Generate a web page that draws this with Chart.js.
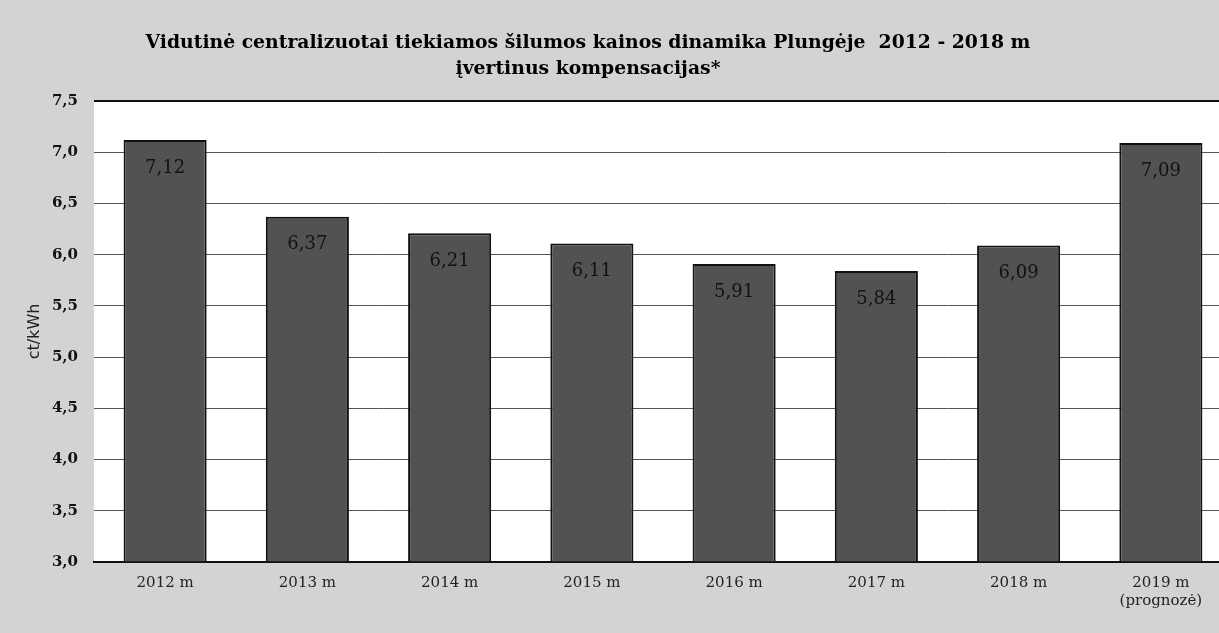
<!DOCTYPE html>
<html>
<head>
<meta charset="utf-8">
<script src="https://cdn.jsdelivr.net/npm/chart.js@4.4.1/dist/chart.umd.min.js"></script>
<style>
html,body{margin:0;padding:0;overflow:hidden;background:#d3d3d3;}
#wrap{width:1232px;height:633px;position:relative;}
</style>
</head>
<body>
<div id="wrap"><canvas id="c" width="1232" height="633"></canvas></div>
<script>
const categories = [["2012 m"],["2013 m"],["2014 m"],["2015 m"],["2016 m"],["2017 m"],["2018 m"],["2019 m","(prognozė)"]];
const prices = [7.12, 6.37, 6.21, 6.11, 5.91, 5.84, 6.09, 7.09];
const titleLines = ["Vidutinė centralizuotai tiekiamos šilumos kainos dinamika Plungėje  2012 - 2018 m", "įvertinus kompensacijas*"];
const yAxisTitle = "ct/kWh";
const yMin = 3.0, yMax = 7.5, yStep = 0.5;

const fmt = v => v.toFixed(2).replace('.', ',');

const bgPlugin = {
  id: 'bg',
  beforeDraw(chart) {
    const {ctx, chartArea: a} = chart;
    ctx.save();
    ctx.fillStyle = '#d3d3d3';
    ctx.fillRect(0, 0, chart.width, chart.height);
    ctx.fillStyle = '#ffffff';
    ctx.fillRect(a.left, a.top, a.right - a.left, a.bottom - a.top);
    ctx.restore();
  }
};

const titlePlugin = {
  id: 'ttl',
  afterDraw(chart) {
    const ctx = chart.ctx;
    ctx.save();
    ctx.fillStyle = '#000';
    ctx.font = 'bold 18.8px "DejaVu Serif"';
    ctx.textAlign = 'center';
    ctx.textBaseline = 'middle';
    ctx.fillText(titleLines[0], 588, 43);
    ctx.fillText(titleLines[1], 588, 69);
    ctx.restore();
  }
};

const labelPlugin = {
  id: 'vlabels',
  afterDatasetsDraw(chart) {
    const ctx = chart.ctx;
    const meta = chart.getDatasetMeta(0);
    ctx.save();
    ctx.fillStyle = '#111';
    ctx.font = '18px "DejaVu Serif"';
    ctx.textAlign = 'center';
    ctx.textBaseline = 'middle';
    meta.data.forEach((bar, i) => {
      ctx.fillText(fmt(prices[i]), bar.x, bar.y + 28);
    });
    ctx.restore();
  }
};

new Chart(document.getElementById('c'), {
  type: 'bar',
  data: {
    labels: categories,
    datasets: [{
      data: prices,
      backgroundColor: '#525252',
      borderColor: '#111111',
      borderWidth: 2,
      categoryPercentage: 1.0,
      barPercentage: 0.584,
      base: yMin
    }]
  },
  options: {
    responsive: false,
    animation: false,
    layout: {padding: {top: 101, left: 0, right: 0, bottom: 0}},
    plugins: {legend: {display: false}, tooltip: {enabled: false}, title: {display: false}},
    scales: {
      x: {
        grid: {display: false, drawTicks: false},
        border: {display: true, color: '#111', width: 2},
        ticks: {color: '#222', font: {family: 'DejaVu Serif', size: 15}, padding: 12, maxRotation: 0},
        afterFit(s) { s.height = 71; }
      },
      y: {
        min: yMin, max: yMax,
        ticks: {stepSize: yStep, color: '#111', padding: 16,
          font: {family: 'DejaVu Serif', size: 15, weight: 'bold'},
          callback: v => v.toFixed(1).replace('.', ',')},
        grid: {color: ctx => ctx.tick && ctx.tick.value === yMax ? '#111' : '#555', lineWidth: ctx => ctx.tick && ctx.tick.value === yMax ? 2 : 1, drawTicks: false},
        border: {display: false},
        title: {display: true, text: yAxisTitle, color: '#222', font: {family: 'DejaVu Sans', size: 16}, padding: {top: 25, bottom: 0}},
        afterFit(s) { s.width = 94; }
      }
    }
  },
  plugins: [bgPlugin, titlePlugin, labelPlugin]
});
</script>
</body>
</html>
